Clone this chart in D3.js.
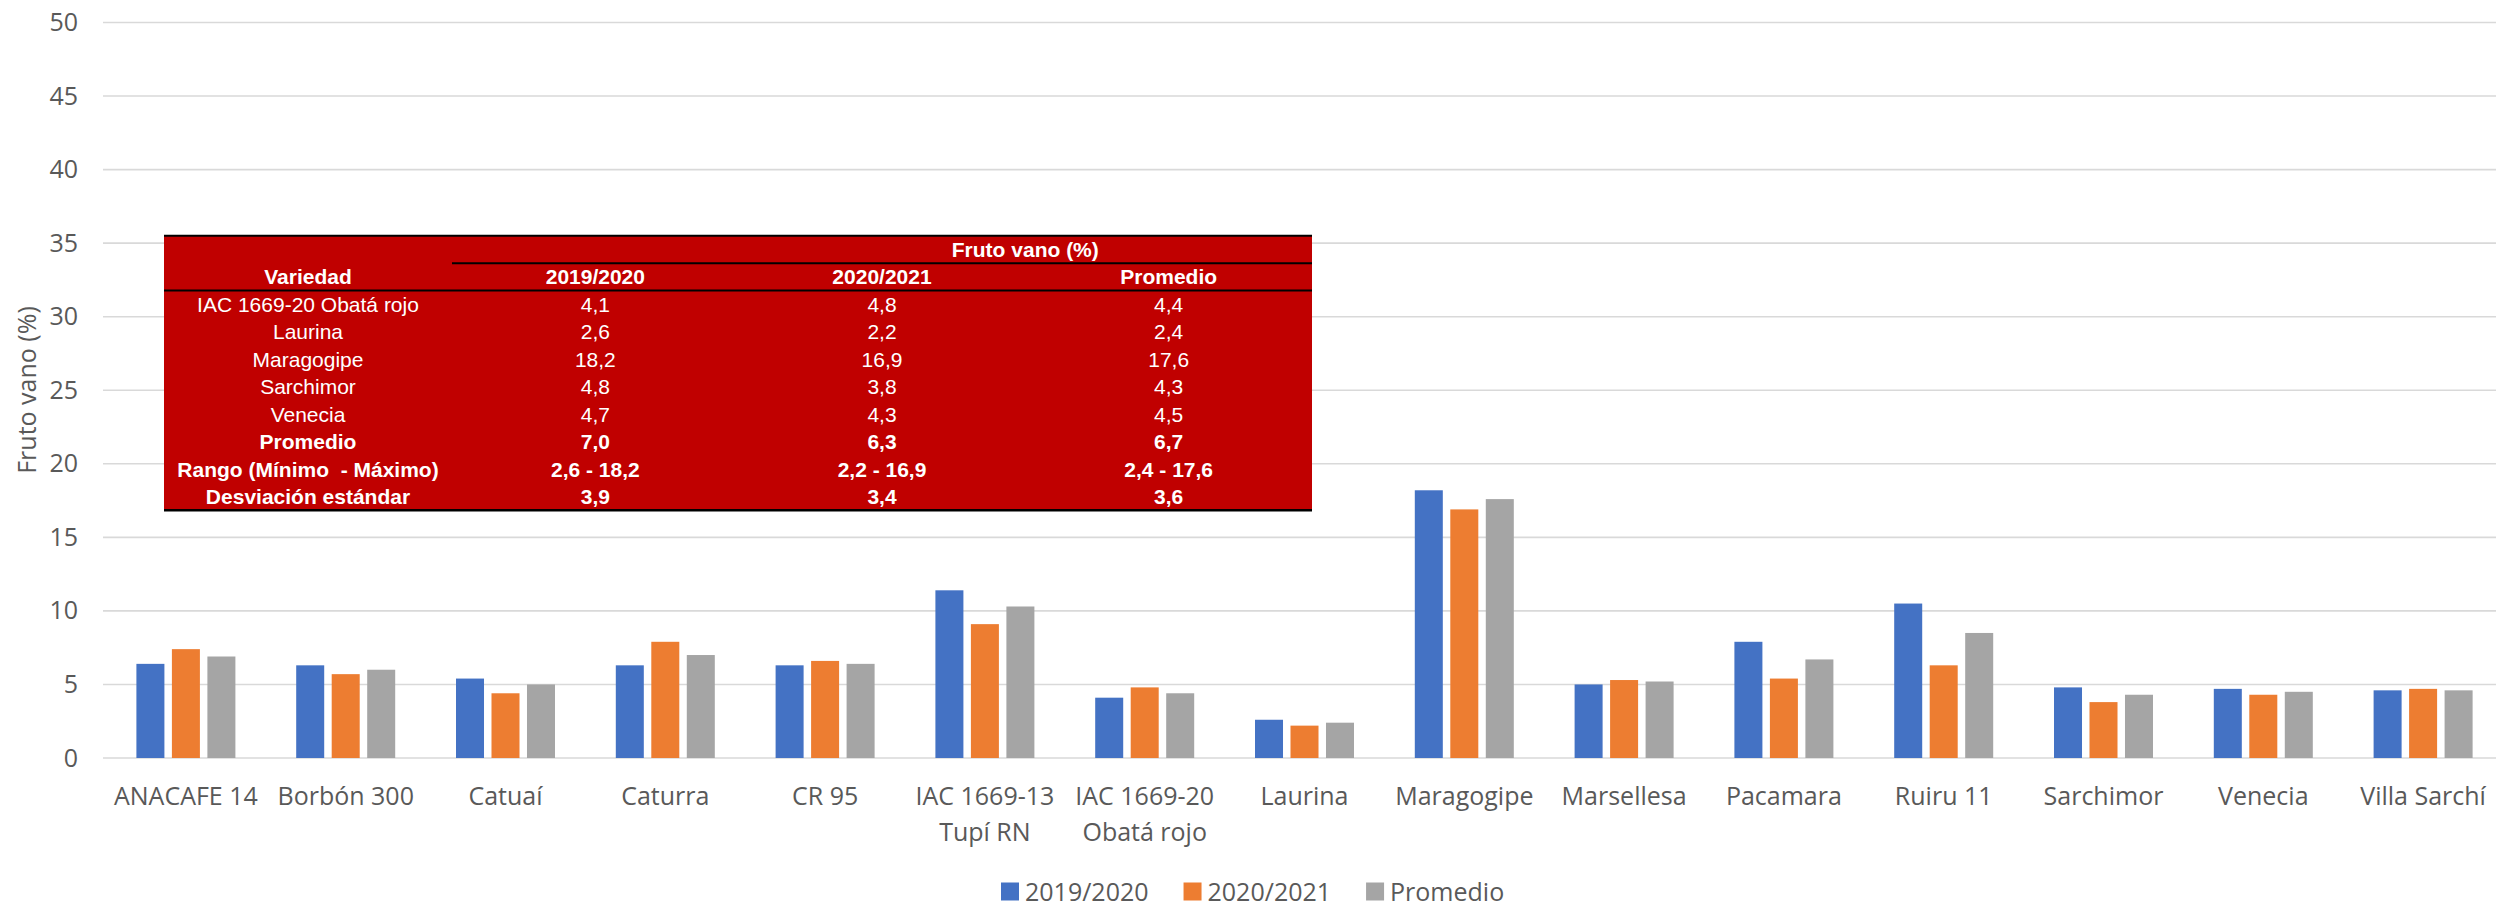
<!DOCTYPE html>
<html>
<head>
<meta charset="utf-8">
<script src="https://cdn.jsdelivr.net/npm/d3@7"></script>
<style>
    body { margin: 0; background: #fff; }
    .axis text { font-family: "Open Sans", sans-serif; font-size: 25px; fill: #595959; }
    .tbl text { font-family: "Liberation Sans", Arial, sans-serif; font-size: 21px; fill: #fff; text-anchor: middle; white-space: pre; }
</style>
</head>
<body>
<div id="chart"></div>
<script>
// categories and series (Fruto vano, %)
var categories = ["ANACAFE 14", "Borbón 300", "Catuaí", "Caturra", "CR 95", "IAC 1669-13 Tupí RN",
    "IAC 1669-20 Obatá rojo", "Laurina", "Maragogipe", "Marsellesa", "Pacamara", "Ruiru 11",
    "Sarchimor", "Venecia", "Villa Sarchí"];
var seriesNames = ["2019/2020", "2020/2021", "Promedio"];
var v2019 = [6.4, 6.3, 5.4, 6.3, 6.3, 11.4, 4.1, 2.6, 18.2, 5.0, 7.9, 10.5, 4.8, 4.7, 4.6];
var v2020 = [7.4, 5.7, 4.4, 7.9, 6.6, 9.1, 4.8, 2.2, 16.9, 5.3, 5.4, 6.3, 3.8, 4.3, 4.7];
var vProm = [6.9, 6.0, 5.0, 7.0, 6.4, 10.3, 4.4, 2.4, 17.6, 5.2, 6.7, 8.5, 4.3, 4.5, 4.6];
var yTicks = [0, 5, 10, 15, 20, 25, 30, 35, 40, 45, 50];

// inset table
var tableHeader = ["Variedad", "2019/2020", "2020/2021", "Promedio"];
var tableRows = ["IAC 1669-20 Obatá rojo", "Laurina", "Maragogipe", "Sarchimor", "Venecia",
    "Promedio", "Rango (Mínimo  - Máximo)", "Desviación estándar"];
var table2019 = ["4,1", "2,6", "18,2", "4,8", "4,7", "7,0", "2,6 - 18,2", "3,9"];
var table2020 = ["4,8", "2,2", "16,9", "3,8", "4,3", "6,3", "2,2 - 16,9", "3,4"];
var tableProm = ["4,4", "2,4", "17,6", "4,3", "4,5", "6,7", "2,4 - 17,6", "3,6"];
var tableBold = [false, false, false, false, false, true, true, true];

var width = 2496, height = 906;
var plot = { left: 106, right: 2503, top: 22.5, bottom: 758 };

var color = d3.scaleOrdinal().domain(seriesNames).range(["#4472C4", "#ED7D31", "#A5A5A5"]);

var x0 = d3.scaleBand().domain(categories).range([plot.left, plot.right]);
var groupW = 99;
var x1 = d3.scaleBand().domain(seriesNames)
    .range([(x0.bandwidth() - groupW) / 2, (x0.bandwidth() + groupW) / 2])
    .paddingInner(0.211);
var y = d3.scaleLinear().domain([0, 50]).range([plot.bottom, plot.top]);

var svg = d3.select("#chart").append("svg")
    .attr("width", width)
    .attr("height", height);

// gridlines
svg.append("g").selectAll("line")
    .data(yTicks)
    .enter().append("line")
    .attr("x1", 103)
    .attr("x2", plot.right)
    .attr("y1", d => y(d))
    .attr("y2", d => y(d))
    .style("stroke", "#d9d9d9")
    .style("stroke-width", 1.6);

// y axis
var yAxis = svg.append("g")
    .attr("class", "axis")
    .attr("transform", "translate(103,0)")
    .call(d3.axisLeft(y).tickValues(yTicks).tickSize(0).tickPadding(25));
yAxis.select(".domain").remove();

svg.append("text")
    .attr("transform", "translate(26,390) rotate(-90)")
    .style("font-family", "'Open Sans', sans-serif")
    .style("font-size", "25px")
    .style("fill", "#595959")
    .attr("text-anchor", "middle")
    .attr("dominant-baseline", "central")
    .text("Fruto vano (%)");

// bars
var rows = categories.map((c, i) => ({
    cat: c,
    vals: [
        { name: seriesNames[0], v: v2019[i] },
        { name: seriesNames[1], v: v2020[i] },
        { name: seriesNames[2], v: vProm[i] }
    ]
}));

var groups = svg.append("g").selectAll(".grp")
    .data(rows)
    .enter().append("g")
    .attr("class", "grp")
    .attr("transform", d => "translate(" + x0(d.cat) + ",0)");

groups.selectAll("rect")
    .data(d => d.vals)
    .enter().append("rect")
    .attr("x", d => x1(d.name))
    .attr("width", x1.bandwidth())
    .attr("y", d => y(d.v))
    .attr("height", d => y(0) - y(d.v))
    .style("fill", d => color(d.name));

// x axis with wrapped labels
var xAxis = svg.append("g")
    .attr("class", "axis")
    .attr("transform", "translate(0," + plot.bottom + ")")
    .call(d3.axisBottom(x0).tickSize(0));
xAxis.select(".domain").remove();

var wrapMap = {
    "IAC 1669-13 Tupí RN": ["IAC 1669-13", "Tupí RN"],
    "IAC 1669-20 Obatá rojo": ["IAC 1669-20", "Obatá rojo"]
};
xAxis.selectAll(".tick text").each(function (d) {
    var t = d3.select(this);
    var lines = wrapMap[d] || [d];
    t.text(null).attr("y", 47).attr("dy", null);
    lines.forEach((ln, i) => {
        t.append("tspan").attr("x", 0).attr("dy", i == 0 ? 0 : 36).text(ln);
    });
});

// legend
var legend = svg.append("g").attr("class", "axis");
var lx = 1001;
seriesNames.forEach(name => {
    legend.append("rect")
        .attr("x", lx)
        .attr("y", 882.5)
        .attr("width", 18)
        .attr("height", 18)
        .style("fill", color(name));
    var t = legend.append("text")
        .attr("x", lx + 24)
        .attr("y", 900.5)
        .text(name);
    lx += 24 + t.node().getComputedTextLength() + 35;
});

// inset table
var tbl = svg.append("g")
    .attr("class", "tbl")
    .attr("transform", "translate(164,235.7)");
var colEdges = [0, 288, 574.7, 861.3, 1148];
var rowH = 27.46;
var colMid = i => (colEdges[i] + colEdges[i + 1]) / 2;

tbl.append("rect")
    .attr("width", colEdges[4])
    .attr("height", rowH * 10)
    .style("fill", "#C00000");

var hlines = [
    { x1: 0, x2: colEdges[4], y: 0, w: 2 },
    { x1: colEdges[1], x2: colEdges[4], y: rowH, w: 2 },
    { x1: 0, x2: colEdges[4], y: rowH * 2, w: 2 },
    { x1: 0, x2: colEdges[4], y: rowH * 10, w: 2.5 }
];
tbl.selectAll("line")
    .data(hlines)
    .enter().append("line")
    .attr("x1", d => d.x1)
    .attr("x2", d => d.x2)
    .attr("y1", d => d.y)
    .attr("y2", d => d.y)
    .style("stroke", "#000")
    .style("stroke-width", d => d.w);

tbl.append("text")
    .attr("x", colEdges[3])
    .attr("y", rowH * 0.5 + 7.5)
    .style("font-weight", "bold")
    .text("Fruto vano (%)");

tableHeader.forEach((h, i) => {
    tbl.append("text")
        .attr("x", colMid(i))
        .attr("y", rowH * 1.5 + 7.5)
        .style("font-weight", "bold")
        .text(h);
});

tableRows.forEach((r, i) => {
    var cells = [r, table2019[i], table2020[i], tableProm[i]];
    cells.forEach((c, j) => {
        tbl.append("text")
            .attr("x", colMid(j))
            .attr("y", rowH * (2 + i + 0.5) + 7.5)
            .style("font-weight", tableBold[i] ? "bold" : "normal")
            .text(c);
    });
});
</script>
</body>
</html>
